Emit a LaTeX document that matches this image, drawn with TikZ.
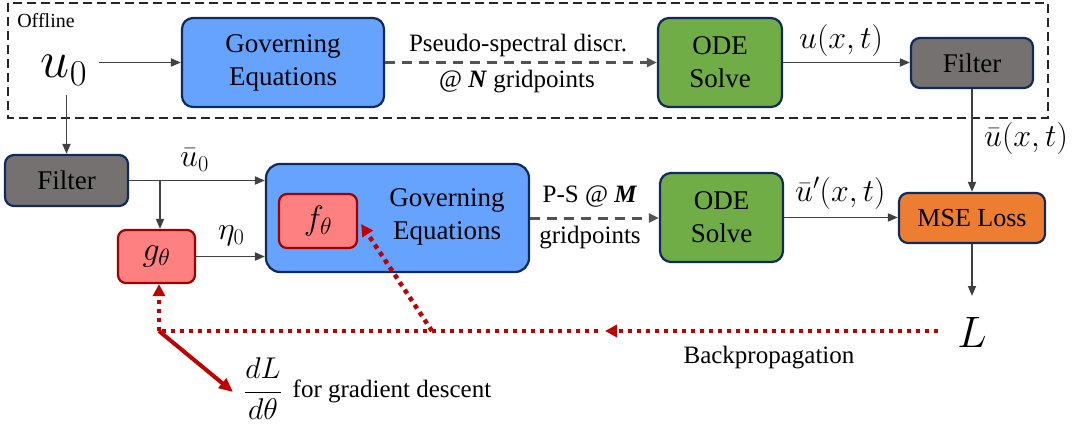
\RequirePackage{fix-cm}
\documentclass[tikz,border=0pt]{standalone}
\usepackage{fontspec}
\setmainfont{Liberation Serif}
\newfontfamily\tnr{Liberation Serif}
\usetikzlibrary{arrows.meta}
\definecolor{navy}{HTML}{0F2B5B}
\definecolor{bfill}{HTML}{66A3FF}
\definecolor{gfill}{HTML}{70AD47}
\definecolor{grfill}{HTML}{767171}
\definecolor{ofill}{HTML}{ED7D31}
\definecolor{rfill}{HTML}{FF8080}
\definecolor{rborder}{HTML}{A00000}
\definecolor{bpred}{HTML}{C00000}
\definecolor{cgray}{HTML}{404040}
\begin{document}
\begin{tikzpicture}[x=1pt,y=-1pt,
  box/.style={draw=navy, line width=2.2pt, rounded corners=11pt, align=center, inner sep=0pt, font=\tnr\fontsize{27}{33}\selectfont},
  rbox/.style={draw=rborder, fill=rfill, line width=2.2pt, rounded corners=8pt, inner sep=0pt, font=\fontsize{34}{38}\selectfont},
  conn/.style={draw=cgray, line width=1.8pt, -{Triangle[length=10pt,width=8pt]}},
  dconn/.style={draw=cgray!90, line width=3pt, dash pattern=on 10pt off 7pt, -{Triangle[length=10pt,width=9pt]}},
  bp/.style={draw=bpred, line width=4.5pt, dash pattern=on 4.5pt off 4.5pt},
  bptip/.style={bp, -{Triangle[length=12pt,width=12pt]}},
  gd/.style={draw=bpred, line width=4pt, -{Triangle[length=14pt,width=12pt]}},
  lbl/.style={inner sep=0pt, font=\tnr\fontsize{25}{30}\selectfont, align=center},
  mlbl/.style={inner sep=0pt, font=\fontsize{32}{36}\selectfont}
]
\useasboundingbox (0,0) rectangle (1075,425);
% offline frame
\draw[line width=1.4pt, dash pattern=on 9pt off 5pt, draw=black!85] (8,3) rectangle (1048,118);
\node[lbl, font=\tnr\fontsize{20}{24}\selectfont] (offline) at (46,21) {Offline};

% nodes
\node[inner sep=0pt, minimum width=70, minimum height=50, font=\fontsize{52}{56}\selectfont] (u0) at (64,70) {$u_0$};
\node[box, fill=bfill, minimum width=202, minimum height=89] (gov1) at (283,62.5) {Governing\\Equations};
\node[box, fill=gfill, minimum width=124, minimum height=89] (ode1) at (720,62.5) {ODE\\Solve};
\node[box, fill=grfill, minimum width=122, minimum height=50, rounded corners=9pt] (filter1) at (972,63) {Filter};
\node[box, fill=grfill, minimum width=123, minimum height=51, rounded corners=9pt] (filter2) at (66.5,180.5) {Filter};
\node[rbox, minimum width=77, minimum height=53] (g) at (156.5,256.5) {$g_\theta$};
\node[box, fill=bfill, minimum width=263, minimum height=108, rounded corners=14pt] (gov2) at (397.5,218) {};
\node[lbl, font=\tnr\fontsize{27}{33}\selectfont] (gov2txt) at (447,217) {Governing\\Equations};
\node[rbox, minimum width=78, minimum height=54] (f) at (318,221) {$f_\theta$};
\node[box, fill=gfill, minimum width=123, minimum height=89] (ode2) at (721.5,217.5) {ODE\\Solve};
\node[box, fill=ofill, minimum width=146, minimum height=50, rounded corners=9pt, font=\tnr\fontsize{26}{30}\selectfont] (mse) at (972,218) {MSE Loss};
\node[inner sep=0pt, font=\fontsize{44}{48}\selectfont] (L) at (972,332) {$L$};

% labels
\node[lbl] (ps1) at (518,45) {Pseudo-spectral discr.};
\node[lbl] (ps2) at (517,82) {@ \textbf{\textit{N}} gridpoints};
\node[lbl] (ps3) at (590,197) {P-S @ \textbf{\textit{M}}};
\node[lbl] (ps4) at (590,238) {gridpoints};
\node[mlbl, anchor=west] (uxt) at (799,41) {$u(x,t)$};
\node[mlbl, anchor=west] (ubxt) at (984,139) {$\bar u(x,t)$};
\node[mlbl, anchor=west] (ub0) at (180,160) {$\bar u_0$};
\node[mlbl, anchor=west] (eta0) at (218,236) {$\eta_0$};
\node[mlbl, anchor=west] (ubpxt) at (795,193) {$\bar u'(x,t)$};
\node[lbl] (bplbl) at (769,358) {Backpropagation};
\node[inner sep=0pt, font=\fontsize{30}{34}\selectfont] (frac) at (263,389) {$\displaystyle\frac{dL}{d\theta}$};
\node[lbl] (gdlbl) at (392,391) {for gradient descent};

% coordinates
\coordinate (br) at (160,180.5);
\coordinate (Ltop) at (972,296);
\coordinate (bpstart) at (938,331);
\coordinate (bpmid) at (605,331);
\coordinate (bpmid2) at (598,331);
\coordinate (bpend) at (159,331);
\coordinate (diag) at (432,331);
\coordinate (gdtip) at (233,392);

% connectors
\draw[conn] (u0.east |- gov1.west) -- (gov1.west);
\draw[conn] (u0.south -| filter2.north) -- (filter2.north);
\draw[dconn] (gov1.east) -- (ode1.west);
\draw[conn] (ode1.east) -- (ode1.east -| filter1.west);
\draw[conn] (filter1.south) -- (mse.north);
\draw[conn] (filter2.east) -- (filter2.east -| gov2.west);
\draw[conn] (br) -- (br |- g.north);
\draw[conn] (g.east) -- (g.east -| gov2.west);
\draw[dconn] (gov2.east) -- (gov2.east -| ode2.west);
\draw[conn] (ode2.east) -- (ode2.east -| mse.west);
\draw[conn] (mse.south) -- (Ltop);

% backprop
\draw[bptip] (bpstart) -- (bpmid);
\draw[bp] (bpmid2) -- (bpend);
\draw[bptip] (bpend) -- (bpend |- g.south);
\draw[bptip] (diag) -- ([shift={(3,3)}]f.east);
\draw[gd] (bpend) -- (gdtip);
\end{tikzpicture}
\end{document}
